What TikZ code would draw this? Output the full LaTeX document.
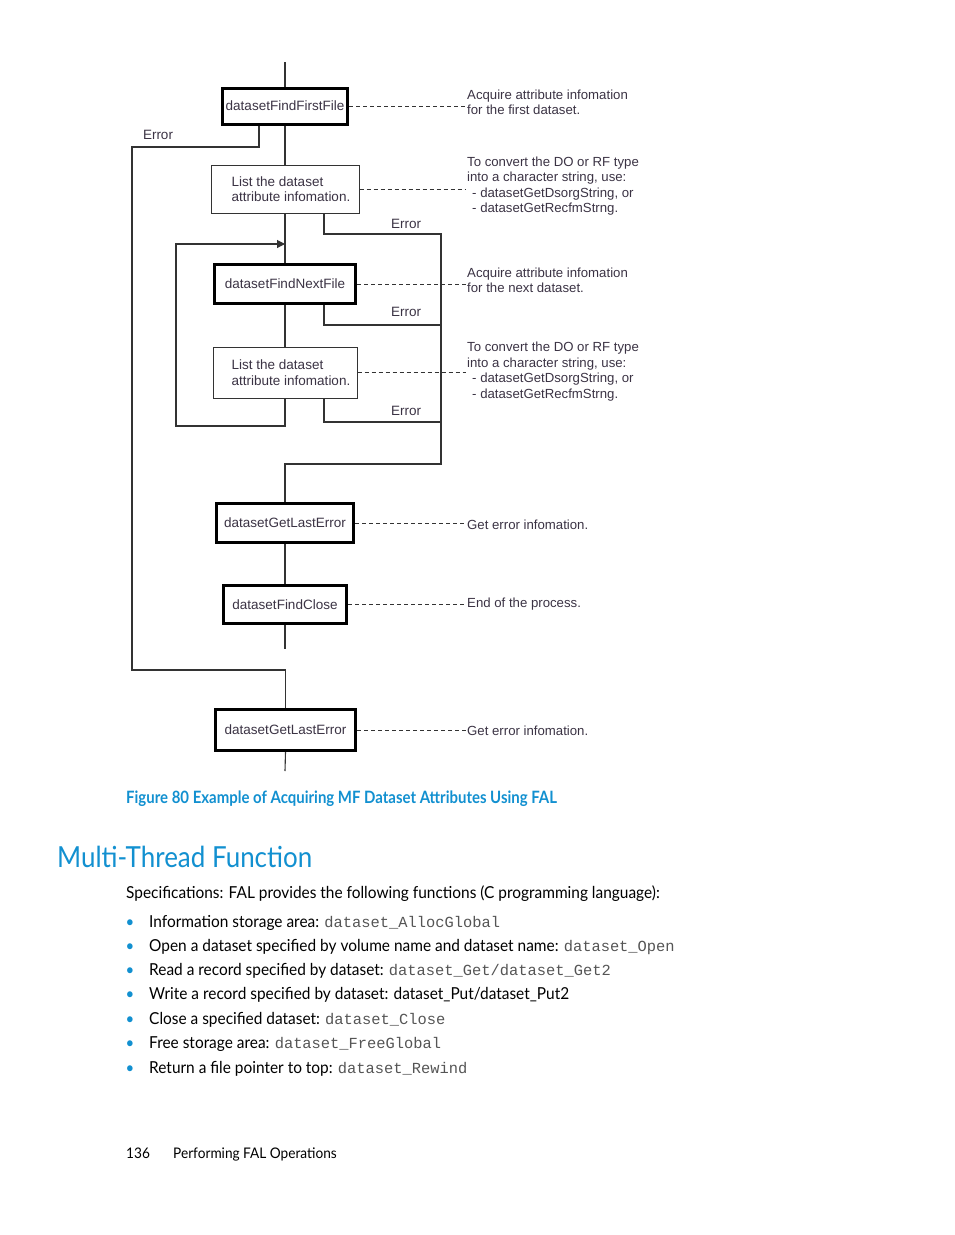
\documentclass[tikz,border=0pt]{standalone}
\usepackage{fontspec}
\setmainfont{Lato}
\newfontfamily\diafont{Liberation Sans}
\newfontfamily\capfont[FakeStretch=0.88]{Lato}
\newfontfamily\headfont[FakeStretch=0.895]{Lato}
\newfontfamily\bodyfont[FakeStretch=0.935]{Lato}
\newfontfamily\codefont{Liberation Mono}
\usetikzlibrary{arrows.meta}
\definecolor{hpblue}{HTML}{1290D0}
\definecolor{ink}{HTML}{333333}
\definecolor{diatext}{HTML}{3B3344}
\definecolor{codegray}{HTML}{555555}
\begin{document}
\begin{tikzpicture}[x=1pt,y=-1pt,
  conn/.style={draw=ink,line width=1.1pt},
  diafnt/.style={font=\diafont\fontsize{13.5}{15.5}\selectfont,text=diatext},
  thickbox/.style={diafnt,draw=black,line width=3pt,fill=white,inner sep=0pt},
  thinbox/.style={diafnt,draw=ink,line width=1pt,fill=white,inner sep=0pt,align=left},
  note/.style={font=\diafont\fontsize{13.2}{15.5}\selectfont,text=diatext,align=left,inner sep=1pt,anchor=west},
  lead/.style={draw=ink,line width=0.9pt,dash pattern=on 4pt off 3pt},
  errlabel/.style={diafnt,inner sep=0pt},
  bodytxt/.style={font=\bodyfont\fontsize{16.5}{19}\selectfont,anchor=base west,inner sep=0pt},
  bullet/.style={font=\bodyfont\fontsize{16}{19}\selectfont,text=hpblue,anchor=base,inner sep=0pt}
]
\useasboundingbox (0,0) rectangle (954,1235);

% boxes
\node[thickbox,minimum width=125,minimum height=36] (b1) at (285,106) {datasetFindFirstFile};
\node[thinbox,minimum width=148,minimum height=48] (b2) at (285,189) {\hspace*{12pt}List the dataset\\\hspace*{12pt}attribute infomation.};
\node[thickbox,minimum width=141,minimum height=39] (b3) at (285,284) {datasetFindNextFile};
\node[thinbox,minimum width=144,minimum height=51] (b4) at (285,372.5) {\hspace*{12pt}List the dataset\\\hspace*{12pt}attribute infomation.};
\node[thickbox,minimum width=137,minimum height=39] (b5) at (285,523) {datasetGetLastError};
\node[thickbox,minimum width=123,minimum height=38] (b6) at (285,604.5) {datasetFindClose};
\node[thickbox,minimum width=140,minimum height=41] (b7) at (285.5,730) {datasetGetLastError};

% annotations
\node[note] (a1) at (466,102.5) {Acquire attribute infomation\\for the first dataset.};
\node[note] (a2) at (466,186) {To convert the DO or RF type\\into a character string, use:\\\hspace{5pt}- datasetGetDsorgString, or\\\hspace{5pt}- datasetGetRecfmStrng.};
\node[note] (a3) at (466,280.5) {Acquire attribute infomation\\for the next dataset.};
\node[note] (a4) at (466,371.5) {To convert the DO or RF type\\into a character string, use:\\\hspace{5pt}- datasetGetDsorgString, or\\\hspace{5pt}- datasetGetRecfmStrng.};
\node[note] (a5) at (466,524.5) {Get error infomation.};
\node[note] (a6) at (466,604) {End of the process.};
\node[note] (a7) at (466,730.5) {Get error infomation.};

% error labels
\node[errlabel] (e0) at (158,135) {Error};
\node[errlabel] (e1) at (406,224) {Error};
\node[errlabel] (e2) at (406,312) {Error};
\node[errlabel] (e3) at (406,411) {Error};

% coordinates
\coordinate (top) at (285,62);
\coordinate (c1) at (132,147);
\coordinate (c2) at (132,670);
\coordinate (r1) at (441,234);
\coordinate (r2) at (441,325);
\coordinate (r3) at (441,422);
\coordinate (r4) at (441,464);
\coordinate (l1) at (176,426);
\coordinate (tip) at (285,244);
\coordinate (end6) at (285,649);
\coordinate (end7) at (285,771);

% main flow
\draw[conn] (top) -- (b1.north);
\draw[conn] (b1.south) -- (b2.north);
\draw[conn] (b2.south) -- (b3.north);
\draw[conn] (b3.south) -- (b4.north);
\draw[conn] (b5.south) -- (b6.north);
\draw[conn] (b6.south) -- (end6);
\draw[conn] (b7.south) -- (end7);

% error from first box
\draw[conn] ([xshift=-26pt]b1.south) |- (c1) -- (c2) -| (b7.north);
% error branches on right
\draw[conn] ([xshift=39pt]b2.south) |- (r1) -- (r4) -| (b5.north);
\draw[conn] ([xshift=39pt]b3.south) |- (r2);
\draw[conn] ([xshift=39pt]b4.south) |- (r3);
% loop
\draw[conn,-{Triangle[length=8pt,width=8pt]}] (b4.south) |- (l1) |- (tip);

% leaders
\draw[lead] (b1.east) -- (b1.east -| a1.west);
\draw[lead] (b2.east) -- (b2.east -| a2.west);
\draw[lead] (b3.east) -- (b3.east -| a3.west);
\draw[lead] (b4.east) -- (b4.east -| a4.west);
\draw[lead] (b5.east) -- (b5.east -| a5.west);
\draw[lead] (b6.east) -- (b6.east -| a6.west);
\draw[lead] (b7.east) -- (b7.east -| a7.west);

% caption and page text
\node[anchor=base west,inner sep=0pt,text=hpblue,font=\capfont\bfseries\fontsize{17}{20}\selectfont] (cap) at (126,803) {Figure 80 Example of Acquiring MF Dataset Attributes Using FAL};
\node[anchor=base west,inner sep=0pt,text=hpblue,font=\headfont\fontsize{29}{34}\selectfont] (head) at (57,867) {Multi-Thread Function};
\node[bodytxt] (spec) at (126,898) {Specifications: FAL provides the following functions (C programming language):};

\node[bullet] (d1) at (130,927) {•};
\node[bodytxt] (t1) at (149,927) {Information storage area: {\codefont\fontsize{15.4}{18}\selectfont\color{codegray}dataset\_AllocGlobal}};
\node[bullet] (d2) at (130,951) {•};
\node[bodytxt] (t2) at (149,951) {Open a dataset specified by volume name and dataset name: {\codefont\fontsize{15.4}{18}\selectfont\color{codegray}dataset\_Open}};
\node[bullet] (d3) at (130,975.5) {•};
\node[bodytxt] (t3) at (149,975.5) {Read a record specified by dataset: {\codefont\fontsize{15.4}{18}\selectfont\color{codegray}dataset\_Get/dataset\_Get2}};
\node[bullet] (d4) at (130,999.5) {•};
\node[bodytxt] (t4) at (149,999.5) {Write a record specified by dataset: dataset\_Put/dataset\_Put2};
\node[bullet] (d5) at (130,1024) {•};
\node[bodytxt] (t5) at (149,1024) {Close a specified dataset: {\codefont\fontsize{15.4}{18}\selectfont\color{codegray}dataset\_Close}};
\node[bullet] (d6) at (130,1048.5) {•};
\node[bodytxt] (t6) at (149,1048.5) {Free storage area: {\codefont\fontsize{15.4}{18}\selectfont\color{codegray}dataset\_FreeGlobal}};
\node[bullet] (d7) at (130,1073) {•};
\node[bodytxt] (t7) at (149,1073) {Return a file pointer to top: {\codefont\fontsize{15.4}{18}\selectfont\color{codegray}dataset\_Rewind}};

\node[bodytxt,font=\bodyfont\fontsize{14.6}{18}\selectfont] (pg) at (126,1158) {136};
\node[bodytxt,font=\bodyfont\fontsize{14.6}{18}\selectfont] (ft) at (173,1158) {Performing FAL Operations};
\end{tikzpicture}
\end{document}
